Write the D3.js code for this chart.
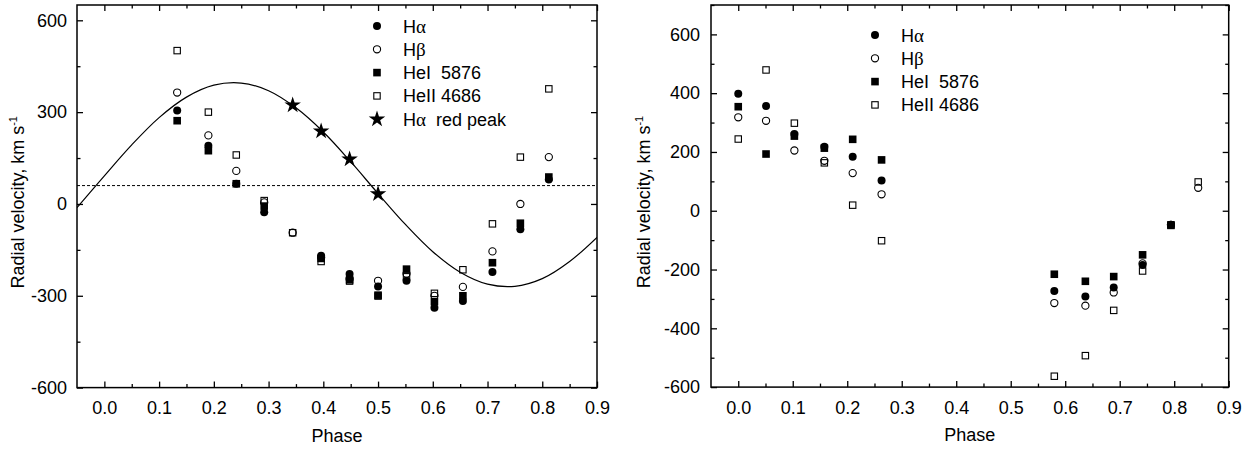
<!DOCTYPE html>
<html>
<head>
<meta charset="utf-8">
<script src="https://cdn.jsdelivr.net/npm/d3@7"></script>
<style>
  body { margin: 0; background: #fff; }
  svg { display: block; font-family: "Liberation Sans", Arial, sans-serif; }
</style>
</head>
<body>
<div id="chart"></div>
<script>
// Left panel: phases and radial velocities (km/s)
const phaseLeft = [0.133, 0.19, 0.241, 0.292, 0.344, 0.396, 0.448, 0.5, 0.552, 0.603, 0.655, 0.709, 0.76, 0.812];
const haLeft    = [305, 190, 66, -27, null, -169, -229, -270, -251, -339, -317, -222, -83, 80];
const hbLeft    = [364, 224, 108, 5, -94, -175, -245, -251, -228, -300, -271, -155, 0, 153];
const heiLeft   = [272, 174, 66, -7, null, -178, -248, -298, -213, -319, -300, -192, -63, 88];
const heiiLeft  = [501, 300, 160, 11, -94, -188, -252, -301, -238, -292, -215, -65, 153, 376];
const redPeakPhase = [0.344, 0.396, 0.448, 0.5];
const redPeakRv    = [323, 238, 146, 33];
// fitted sine curve, every 0.05 in phase
const fitPhase = [-0.05, 0, 0.05, 0.1, 0.15, 0.2, 0.25, 0.3, 0.35, 0.4, 0.45, 0.5, 0.55, 0.6, 0.65, 0.7, 0.75, 0.8, 0.85, 0.9];
const fitRv    = [-12, 92, 193, 282, 349, 388, 395, 370, 314, 235, 138, 34, -67, -156, -223, -262, -269, -244, -188, -109];
const gammaLevel = 60;

// Right panel
const phaseRight = [0.0, 0.051, 0.103, 0.158, 0.21, 0.263, 0.58, 0.637, 0.689, 0.742, 0.794, 0.844];
const haRight    = [398, 356, 261, 218, 184, 103, -273, -292, -261, -185, -48, null];
const hbRight    = [318, 306, 205, 170, 128, 56, -314, -323, -278, -179, -48, 78];
const heiRight   = [354, 193, 254, 213, 243, 173, -216, -240, -224, -150, -48, null];
const heiiRight  = [244, 479, 298, 163, 19, -102, -563, -493, -339, -205, -50, 98];

const xTicks = [0, 0.1, 0.2, 0.3, 0.4, 0.5, 0.6, 0.7, 0.8, 0.9];

const W = 1251, H = 449;
const svg = d3.select('#chart').append('svg').attr('width', W).attr('height', H);

// marker drawing
function drawMarker(g, kind, x, y) {
    if (kind === 'fc') {
        g.append('circle').attr('cx', x).attr('cy', y).attr('r', 4).attr('fill', '#000');
    } else if (kind === 'oc') {
        g.append('circle').attr('cx', x).attr('cy', y).attr('r', 3.6)
            .attr('fill', 'none').attr('stroke', '#000').attr('stroke-width', 1.1);
    } else if (kind === 'fs') {
        g.append('rect').attr('x', x - 3.8).attr('y', y - 3.8).attr('width', 7.6).attr('height', 7.6).attr('fill', '#000');
    } else if (kind === 'os') {
        g.append('rect').attr('x', x - 3.2).attr('y', y - 3.2).attr('width', 6.4).attr('height', 6.4)
            .attr('fill', 'none').attr('stroke', '#000').attr('stroke-width', 1.1);
    } else if (kind === 'star') {
        g.append('path').attr('transform', `translate(${x},${y})`)
            .attr('d', d3.symbol().type(d3.symbolStar).size(85)()).attr('fill', '#000');
    }
}

function drawPanel(cfg) {
    const g = svg.append('g');
    const x = d3.scaleLinear().domain([-0.05, 0.9]).range([cfg.left, cfg.right]);
    const y = d3.scaleLinear().domain(cfg.yDomain).range([cfg.bottom, cfg.top]);

    const styleAxis = sel => {
        sel.select('.domain').remove();
        sel.selectAll('line').attr('stroke', '#000').attr('stroke-width', 1.3);
        sel.selectAll('text').attr('fill', '#000')
            .attr('font-family', '"Liberation Sans", Arial, sans-serif').attr('font-size', 18);
    };
    const minorX = d3.range(-0.05, 0.91, 0.05).map(v => +v.toFixed(2)).filter(v => xTicks.indexOf(v) < 0 && v > -0.05);
    const minorY = d3.range(cfg.yDomain[0], cfg.yDomain[1] + 1, cfg.yStep / 2).filter(v => cfg.yTicks.indexOf(v) < 0);

    // bottom / top
    g.append('g').attr('transform', `translate(0,${cfg.bottom})`)
        .call(d3.axisBottom(x).tickValues(xTicks).tickFormat(d3.format('.1f')).tickSize(-6).tickSizeOuter(0).tickPadding(14))
        .call(styleAxis);
    g.append('g').attr('transform', `translate(0,${cfg.bottom})`)
        .call(d3.axisBottom(x).tickValues(minorX).tickFormat('').tickSize(-3.5).tickSizeOuter(0))
        .call(styleAxis);
    g.append('g').attr('transform', `translate(0,${cfg.top})`)
        .call(d3.axisTop(x).tickValues(xTicks).tickFormat('').tickSize(-6).tickSizeOuter(0))
        .call(styleAxis);
    g.append('g').attr('transform', `translate(0,${cfg.top})`)
        .call(d3.axisTop(x).tickValues(minorX).tickFormat('').tickSize(-3.5).tickSizeOuter(0))
        .call(styleAxis);
    // left / right (plain hyphen for negatives, as in the original)
    g.append('g').attr('transform', `translate(${cfg.left},0)`)
        .call(d3.axisLeft(y).tickValues(cfg.yTicks).tickFormat(d => String(d)).tickSize(-6).tickSizeOuter(0).tickPadding(cfg.yPad))
        .call(styleAxis);
    g.append('g').attr('transform', `translate(${cfg.left},0)`)
        .call(d3.axisLeft(y).tickValues(minorY).tickFormat('').tickSize(-3.5).tickSizeOuter(0))
        .call(styleAxis);
    g.append('g').attr('transform', `translate(${cfg.right},0)`)
        .call(d3.axisRight(y).tickValues(cfg.yTicks).tickFormat('').tickSize(-6).tickSizeOuter(0))
        .call(styleAxis);
    g.append('g').attr('transform', `translate(${cfg.right},0)`)
        .call(d3.axisRight(y).tickValues(minorY).tickFormat('').tickSize(-3.5).tickSizeOuter(0))
        .call(styleAxis);

    // frame
    g.append('rect').attr('x', cfg.left).attr('y', cfg.top)
        .attr('width', cfg.right - cfg.left).attr('height', cfg.bottom - cfg.top)
        .attr('fill', 'none').attr('stroke', '#000').attr('stroke-width', 1.5);

    // axis titles
    g.append('text').attr('x', (cfg.left + cfg.right) / 2).attr('y', cfg.bottom + 54)
        .attr('text-anchor', 'middle').attr('font-size', 18).text('Phase');
    const yt = g.append('text')
        .attr('transform', `translate(${cfg.yTitleX},${(cfg.top + cfg.bottom) / 2 + 6}) rotate(-90)`)
        .attr('text-anchor', 'middle').attr('font-size', 18);
    yt.append('tspan').text('Radial velocity, km s');
    yt.append('tspan').attr('dy', -7).attr('font-size', 11).text('-1');

    const clipId = 'clip' + cfg.left;
    g.append('clipPath').attr('id', clipId).append('rect')
        .attr('x', cfg.left).attr('y', cfg.top).attr('width', cfg.right - cfg.left).attr('height', cfg.bottom - cfg.top);
    const plot = g.append('g').attr('clip-path', `url(#${clipId})`);

    if (cfg.fit) {
        plot.append('line').attr('x1', cfg.left).attr('x2', cfg.right)
            .attr('y1', y(gammaLevel)).attr('y2', y(gammaLevel))
            .attr('stroke', '#000').attr('stroke-width', 1).attr('stroke-dasharray', '3,2');
        const line = d3.line().x(d => x(d[0])).y(d => y(d[1])).curve(d3.curveCatmullRom.alpha(0.5));
        plot.append('path').datum(d3.zip(fitPhase, fitRv))
            .attr('fill', 'none').attr('stroke', '#000').attr('stroke-width', 1.2).attr('d', line);
    }

    // points (drawn in an order so overlaps look like the original)
    const order = ['os', 'oc', 'fs', 'fc'];
    order.forEach(kind => {
        const s = cfg.series.find(d => d.kind === kind);
        s.values.forEach((v, i) => {
            if (v === null) return;
            drawMarker(plot, kind, x(cfg.phase[i]), y(v));
        });
    });
    if (cfg.fit) {
        redPeakPhase.forEach((p, i) => drawMarker(plot, 'star', x(p), y(redPeakRv[i])));
    }

    // legend
    cfg.legend.forEach((item, i) => {
        const ly = cfg.legendY + i * 23.3;
        drawMarker(g, item.kind, cfg.legendX, ly);
        const t = g.append('text').attr('x', cfg.legendX + 26).attr('y', ly + 6.5).attr('font-size', 18);
        item.parts.forEach(p => {
            const sp = t.append('tspan').text(p.t);
            if (p.greek) sp.attr('font-family', '"Liberation Serif", "DejaVu Serif", serif').attr('font-size', 19);
        });
    });
}

const legendItems = [
    { kind: 'fc', parts: [{ t: 'H' }, { t: 'α', greek: true }] },
    { kind: 'oc', parts: [{ t: 'H' }, { t: 'β', greek: true }] },
    { kind: 'fs', parts: [{ t: 'HeI\u00a0\u00a05876' }] },
    { kind: 'os', parts: [{ t: 'HeII 4686' }] }
];

drawPanel({
    left: 77, right: 597, top: 5, bottom: 387.6,
    yDomain: [-600, 650], yTicks: [-600, -300, 0, 300, 600], yStep: 300, yPad: 10,
    yTitleX: 24,
    phase: phaseLeft,
    series: [
        { kind: 'fc', values: haLeft }, { kind: 'oc', values: hbLeft },
        { kind: 'fs', values: heiLeft }, { kind: 'os', values: heiiLeft }
    ],
    fit: true,
    legendX: 377, legendY: 26,
    legend: legendItems.concat([{ kind: 'star', parts: [{ t: 'H' }, { t: 'α', greek: true }, { t: '\u00a0\u00a0red peak' }] }])
});

drawPanel({
    left: 711, right: 1228.7, top: 5, bottom: 387.1,
    yDomain: [-600, 700], yTicks: [-600, -400, -200, 0, 200, 400, 600], yStep: 200, yPad: 11,
    yTitleX: 650,
    phase: phaseRight,
    series: [
        { kind: 'fc', values: haRight }, { kind: 'oc', values: hbRight },
        { kind: 'fs', values: heiRight }, { kind: 'os', values: heiiRight }
    ],
    fit: false,
    legendX: 875, legendY: 35,
    legend: legendItems
});
</script>
</body>
</html>
